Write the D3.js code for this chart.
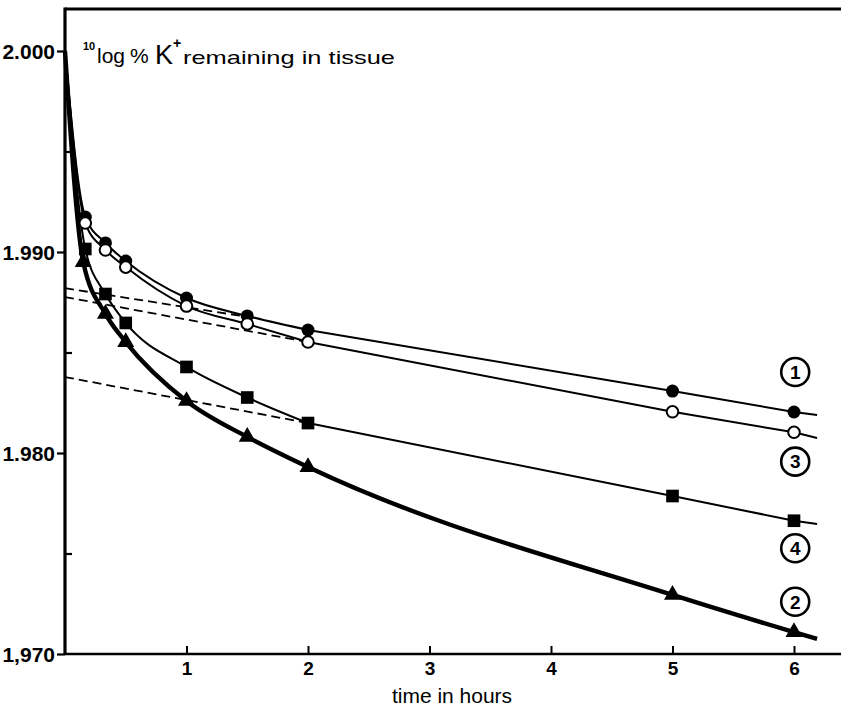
<!DOCTYPE html>
<html>
<head>
<meta charset="utf-8">
<script src="https://cdn.jsdelivr.net/npm/d3@7"></script>
<style>
  html, body { margin: 0; padding: 0; background: #fff; }
  svg { display: block; }
  text { font-family: "Liberation Sans", Arial, Helvetica, sans-serif; fill: #000; }
</style>
</head>
<body>
<svg id="chart" width="841" height="711"></svg>
<script>
// ---------- data ----------
const times    = [0.167, 0.333, 0.5, 1, 1.5, 2, 5, 6];
const timesTri = [0.15, 0.333, 0.5, 1, 1.5, 2, 5, 6];
const series1 = [1.99174, 1.99045, 1.98955, 1.98771, 1.98682, 1.98612, 1.98308, 1.98204]; // filled circles
const series3 = [1.99144, 1.99010, 1.98925, 1.98731, 1.98642, 1.98552, 1.98205, 1.98103]; // open circles
const series4 = [1.99015, 1.98791, 1.98647, 1.98428, 1.98276, 1.98149, 1.97786, 1.97663]; // squares
const series2 = [1.98950, 1.98692, 1.98552, 1.98259, 1.98080, 1.97930, 1.97294, 1.97109]; // triangles
const startT = 0, startV = 2.000;
const endT = 6.19;
const endValues = { s1: 1.98189, s3: 1.98075, s4: 1.97647, s2: 1.97075 };
const linearFromT = 2; // series 1, 3, 4 are straight (linear phase) from this time on
// dashed back-extrapolations: [t0, v0, t1, v1]
const dashed1 = [0, 1.98820, 1.6, 1.98668];
const dashed3 = [0, 1.98776, 2.0, 1.98552];
const dashed4 = [0, 1.98378, 2.0, 1.98149];
const yMajor = [2.000, 1.990, 1.980, 1.970];
const yMajorLabels = ["2.000", "1.990", "1.980", "1,970"];
const yMinor = [1.995, 1.985, 1.975];
const xTicks = [1, 2, 3, 4, 5, 6];
const labelT = 6.01;
const labels = [ {txt: "1", v: 1.98403}, {txt: "3", v: 1.97957}, {txt: "4", v: 1.97526}, {txt: "2", v: 1.97260} ];

// ---------- layout ----------
const svg = d3.select("#chart");
const mLeft = 65, mBottom = 654, mTop = 9, mRight = 841;
const x = d3.scaleLinear().domain([0, 6.4]).range([mLeft, mLeft + 6.4 * 121.5]);
const y = d3.scaleLinear().domain([1.970, 2.000]).range([mBottom, 51]);

// frame
svg.append("line").attr("x1", mLeft).attr("x2", mRight).attr("y1", mTop).attr("y2", mTop)
  .attr("stroke", "#000").attr("stroke-width", 3);
svg.append("line").attr("x1", mLeft).attr("x2", mLeft).attr("y1", mTop - 1.5).attr("y2", mBottom + 1)
  .attr("stroke", "#000").attr("stroke-width", 3.2);
svg.append("line").attr("x1", mLeft).attr("x2", mRight).attr("y1", mBottom).attr("y2", mBottom)
  .attr("stroke", "#000").attr("stroke-width", 2.4);

// y axis major ticks (outward) with labels
const yAxis = d3.axisLeft(y).tickValues(yMajor).tickSize(8).tickPadding(2)
  .tickFormat((d, i) => yMajorLabels[i]);
const gy = svg.append("g").attr("transform", `translate(${mLeft},0)`).call(yAxis);
gy.attr("font-family", null).attr("font-size", null);
gy.select(".domain").remove();
gy.selectAll(".tick line").attr("stroke", "#000").attr("stroke-width", 2.2);
gy.selectAll(".tick text").style("font-size", "21px").style("font-weight", "bold")
  .attr("fill", "#000").attr("dy", "0.36em");
// minor ticks inward
const gym = svg.append("g").attr("transform", `translate(${mLeft},0)`)
  .call(d3.axisRight(y).tickValues(yMinor).tickSize(7).tickFormat(""));
gym.select(".domain").remove();
gym.selectAll(".tick line").attr("stroke", "#000").attr("stroke-width", 2.2);

// x axis ticks inward + labels below
const gx = svg.append("g").attr("transform", `translate(0,${mBottom})`)
  .call(d3.axisTop(x).tickValues(xTicks).tickSize(8).tickFormat(""));
gx.select(".domain").remove();
gx.selectAll(".tick line").attr("stroke", "#000").attr("stroke-width", 2);
const gxl = svg.append("g").attr("transform", `translate(0,${mBottom})`)
  .call(d3.axisBottom(x).tickValues(xTicks).tickSize(0).tickPadding(8).tickFormat(d3.format("d")));
gxl.attr("font-family", null).attr("font-size", null);
gxl.select(".domain").remove();
gxl.selectAll(".tick text").style("font-size", "19px").style("font-weight", "bold").attr("fill", "#000");

svg.append("text").attr("x", 452).attr("y", 703).attr("text-anchor", "middle")
  .style("font-size", "21px").text("time in hours");

// y title
const title = svg.append("text").attr("y", 63);
title.append("tspan").attr("x", 83).attr("y", 50).style("font-size", "11px").style("font-weight", "bold").text("10");
title.append("tspan").attr("x", 97).attr("y", 63).style("font-size", "21px").text("log");
title.append("tspan").attr("x", 130).attr("y", 63).style("font-size", "21px").text("%");
title.append("tspan").attr("x", 155).attr("y", 64).style("font-size", "27px").text("K");
title.append("tspan").attr("x", 173).attr("y", 48).style("font-size", "14px").style("font-weight", "bold").text("+");
title.append("tspan").attr("x", 183).attr("y", 64).style("font-size", "19px")
  .attr("textLength", 212).attr("lengthAdjust", "spacingAndGlyphs").text("remaining in tissue");

// ---------- dashed lines ----------
[dashed1, dashed3, dashed4].forEach(d => {
  svg.append("line").attr("x1", x(d[0])).attr("y1", y(d[1])).attr("x2", x(d[2])).attr("y2", y(d[3]))
    .attr("stroke", "#000").attr("stroke-width", 1.8).attr("stroke-dasharray", "9,5");
});

// ---------- curves ----------
const curved = d3.line().x(d => x(d[0])).y(d => y(d[1])).curve(d3.curveMonotoneX);
const straight = d3.line().x(d => x(d[0])).y(d => y(d[1])).curve(d3.curveLinear);
function pts(ts, vals, endV) {
  return [[startT, startV]].concat(ts.map((t, i) => [t, vals[i]])).concat([[endT, endV]]);
}
const defs = [
  { ts: times, vals: series1, end: endValues.s1, w: 2, split: true },
  { ts: times, vals: series3, end: endValues.s3, w: 2, split: true },
  { ts: times, vals: series4, end: endValues.s4, w: 2, split: true },
  { ts: timesTri, vals: series2, end: endValues.s2, w: 4.4, split: false }
];
defs.forEach(s => {
  const p = pts(s.ts, s.vals, s.end);
  let d;
  if (s.split) {
    const a = p.filter(q => q[0] <= linearFromT);
    const b = p.filter(q => q[0] >= linearFromT);
    d = curved(a) + straight(b).replace(/^M/, "L");
  } else {
    d = curved(p);
  }
  svg.append("path").attr("d", d)
    .attr("fill", "none").attr("stroke", "#000").attr("stroke-width", s.w).attr("stroke-linejoin", "round");
});

// ---------- markers ----------
svg.append("g").selectAll("circle").data(times.map((t, i) => [t, series1[i]])).join("circle")
  .attr("cx", d => x(d[0])).attr("cy", d => y(d[1])).attr("r", 6.5).attr("fill", "#000");
svg.append("g").selectAll("circle").data(times.map((t, i) => [t, series3[i]])).join("circle")
  .attr("cx", d => x(d[0])).attr("cy", d => y(d[1])).attr("r", 5.8).attr("fill", "#fff")
  .attr("stroke", "#000").attr("stroke-width", 2);
svg.append("g").selectAll("path").data(times.map((t, i) => [t, series4[i]])).join("path")
  .attr("transform", d => `translate(${x(d[0])},${y(d[1])})`)
  .attr("d", d3.symbol().type(d3.symbolSquare).size(160)).attr("fill", "#000");
svg.append("g").selectAll("path").data(timesTri.map((t, i) => [t, series2[i]])).join("path")
  .attr("transform", d => `translate(${x(d[0])},${y(d[1])})`)
  .attr("d", d3.symbol().type(d3.symbolTriangle).size(125)).attr("fill", "#000");

// ---------- circled labels ----------
const lg = svg.append("g").selectAll("g").data(labels).join("g")
  .attr("transform", d => `translate(${x(labelT)},${y(d.v)})`);
lg.append("circle").attr("r", 14).attr("fill", "#fff").attr("stroke", "#000").attr("stroke-width", 2.6);
lg.append("text").attr("text-anchor", "middle").attr("dy", "0.36em")
  .style("font-size", "19px").style("font-weight", "bold").text(d => d.txt);
</script>
</body>
</html>
